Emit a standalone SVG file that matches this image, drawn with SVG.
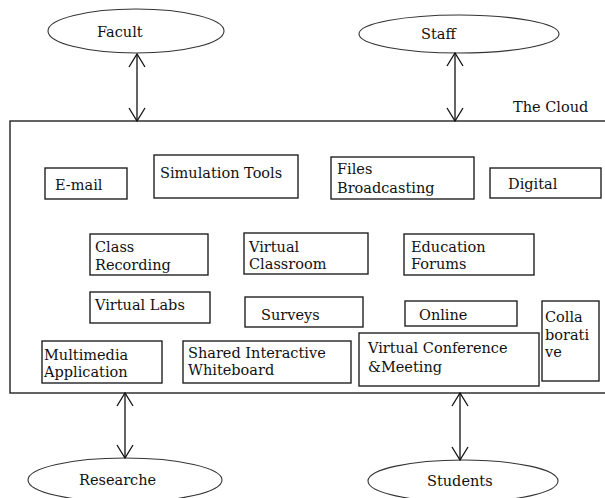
<svg xmlns="http://www.w3.org/2000/svg" width="605" height="498" viewBox="0 0 605 498">
<style>
text{font-family:"DejaVu Serif","Liberation Serif",serif;font-size:14.5px;fill:#111}
.box{fill:#fff;stroke:#222;stroke-width:1.4}
.ell{fill:#fff;stroke:#333;stroke-width:1.1}
.c line,.c path{stroke:#111;stroke-width:1.3;fill:none}
</style>
<rect width="605" height="498" fill="#fff"/>
<g id="cloud">
<rect x="10" y="121" width="605" height="272" fill="#fff" stroke="#222" stroke-width="1.4"/>
<text x="513" y="112">The Cloud</text>
</g>
<g id="facult"><ellipse class="ell" cx="136" cy="31" rx="88" ry="22"/><text x="97" y="37">Facult</text></g>
<g id="staff"><ellipse class="ell" cx="459" cy="34" rx="100" ry="19"/><text x="421" y="39">Staff</text></g>
<g id="researche"><ellipse class="ell" cx="125" cy="480" rx="97" ry="22"/><text x="79" y="485">Researche</text></g>
<g id="students"><ellipse class="ell" cx="463" cy="481" rx="95" ry="21"/><text x="427" y="486">Students</text></g>
<g id="email"><rect class="box" x="45" y="168" width="82" height="31"/><text x="55" y="190">E-mail</text></g>
<g id="simulation"><rect class="box" x="154" y="155" width="144" height="43"/><text x="160" y="178">Simulation Tools</text></g>
<g id="files"><rect class="box" x="331" y="157" width="143" height="42"/><text x="337" y="174">Files</text><text x="337" y="193">Broadcasting</text></g>
<g id="digital"><rect class="box" x="490" y="168" width="111" height="30"/><text x="508" y="189">Digital</text></g>
<g id="classrec"><rect class="box" x="90" y="234" width="118" height="41"/><text x="95" y="252">Class</text><text x="95" y="270">Recording</text></g>
<g id="vclass"><rect class="box" x="244" y="233" width="124" height="41"/><text x="249" y="252">Virtual</text><text x="249" y="269">Classroom</text></g>
<g id="forums"><rect class="box" x="404" y="234" width="130" height="41"/><text x="411" y="252">Education</text><text x="411" y="269">Forums</text></g>
<g id="vlabs"><rect class="box" x="90" y="292" width="120" height="31"/><text x="95" y="310">Virtual Labs</text></g>
<g id="surveys"><rect class="box" x="245" y="297" width="118" height="30"/><text x="261" y="320">Surveys</text></g>
<g id="online"><rect class="box" x="405" y="301" width="112" height="25"/><text x="419" y="320">Online</text></g>
<g id="collab"><rect class="box" x="542" y="301" width="57" height="80"/><text x="545" y="322">Colla</text><text x="545" y="340">borati</text><text x="545" y="357">ve</text></g>
<g id="multimedia"><rect class="box" x="42" y="341" width="120" height="42"/><text x="44" y="360">Multimedia</text><text x="44" y="377">Application</text></g>
<g id="whiteboard"><rect class="box" x="183" y="341" width="168" height="42"/><text x="188" y="358">Shared Interactive</text><text x="188" y="375">Whiteboard</text></g>
<g id="vconf"><rect class="box" x="359" y="333" width="180" height="53"/><text x="368" y="353">Virtual Conference</text><text x="368" y="372">&amp;Meeting</text></g>
<g class="c" id="connectors">
<line x1="137" y1="54" x2="137" y2="121"/>
<path d="M129,67 L137,54 L145,67 M129,108 L137,121 L145,108"/>
<line x1="455" y1="53" x2="455" y2="121"/>
<path d="M447,66 L455,53 L463,66 M447,108 L455,121 L463,108"/>
<line x1="125" y1="393" x2="125" y2="458"/>
<path d="M117,406 L125,393 L133,406 M117,445 L125,458 L133,445"/>
<line x1="460" y1="393" x2="460" y2="460"/>
<path d="M452,406 L460,393 L468,406 M452,447 L460,460 L468,447"/>
</g>
</svg>
